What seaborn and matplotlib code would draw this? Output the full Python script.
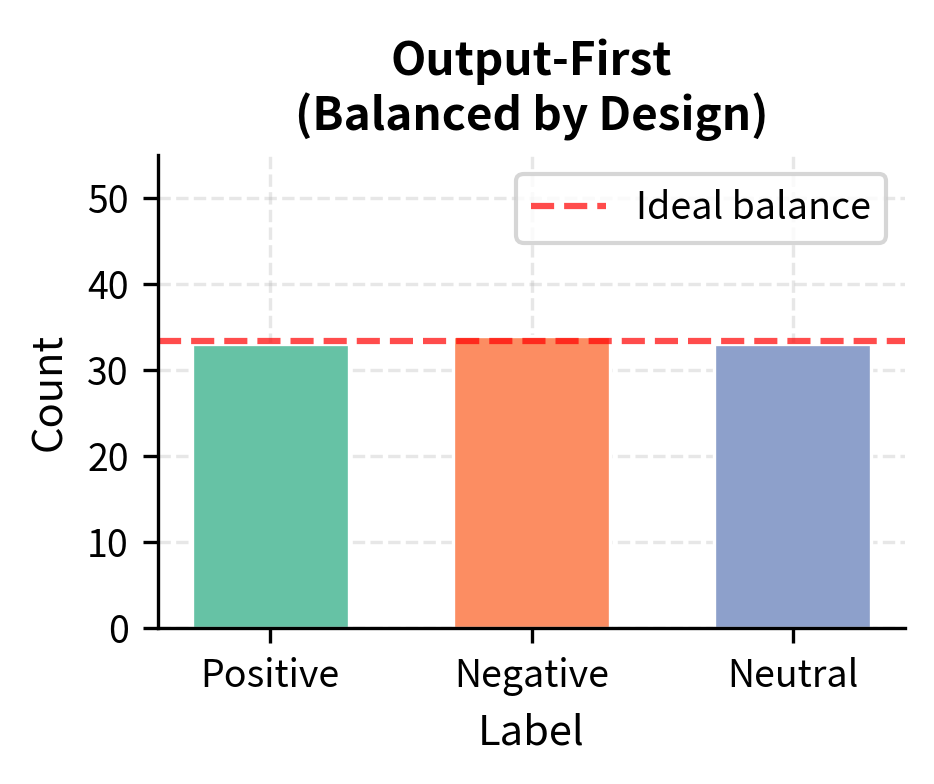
import matplotlib
matplotlib.use("Agg")
import matplotlib.pyplot as plt
import seaborn as sns
import pandas as pd

labels = ["Positive", "Negative", "Neutral"]
counts = [33, 34, 33]
ideal = 100 / 3

sns.set_style("ticks")
plt.rcParams['font.family'] = ['Noto Sans CJK JP', 'DejaVu Sans']
for k in ["text.color", "axes.labelcolor", "xtick.color", "ytick.color", "axes.edgecolor"]:
    plt.rcParams[k] = "black"

df = pd.DataFrame({"Label": labels, "Count": counts})
fig = plt.figure(figsize=(934/300, 784/300), dpi=300)
ax = fig.add_axes([158/934, 1-628/784, (905-158)/934, (628-155)/784])
sns.barplot(data=df, x="Label", y="Count", hue="Label", palette="Set2", saturation=1,
            width=0.6, edgecolor="white", linewidth=0.8, legend=False, ax=ax)
ax.axhline(ideal, color="red", linestyle="--", linewidth=1.5, alpha=0.7, label="Ideal balance")
ax.set_ylim(0, 55)
ax.set_xlim(-0.43, 2.43)
ax.set_yticks([0, 10, 20, 30, 40, 50])
ax.grid(True, linestyle="--", alpha=0.3, color="#b0b0b0", linewidth=0.8)
ax.set_axisbelow(True)
sns.despine(ax=ax)
ax.tick_params(labelsize=9)
ax.set_xlabel("Label", fontsize=10)
ax.set_ylabel("Count", fontsize=10)
ax.set_title("Output-First\n(Balanced by Design)", fontsize=11, fontweight="bold")
ax.legend(loc="upper right", fontsize=9)
fig.savefig("out.png", dpi=300)
